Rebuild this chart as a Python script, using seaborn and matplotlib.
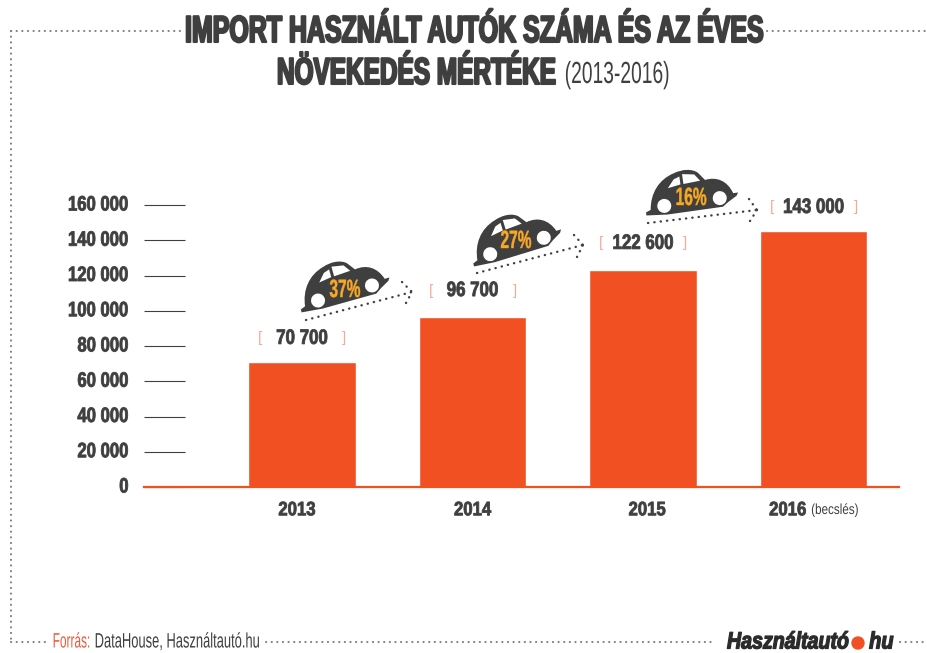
import matplotlib
matplotlib.use("Agg")
import matplotlib.pyplot as plt
import matplotlib.patheffects as pe
from matplotlib.path import Path
from matplotlib.patches import PathPatch, Circle, Polygon
from matplotlib.lines import Line2D
from matplotlib.transforms import Affine2D, ScaledTranslation
import pandas as pd
import seaborn as sns

# data
years = ["2013", "2014", "2015", "2016"]
bar_heights = [70700, 96700, 122900, 145000]
value_labels = ["70 700", "96 700", "122 600", "143 000"]
growth_labels = ["37%", "27%", "16%"]
y_ticks = [0, 20000, 40000, 60000, 80000, 100000, 120000, 140000, 160000]
y_tick_labels = ["0", "20 000", "40 000", "60 000", "80 000", "100 000", "120 000", "140 000", "160 000"]

W, H = 927, 653
DARK = "#3f3f3f"
ORANGE = "#f15122"
YELLOW = "#f9a825"
PINK = "#f8a896"
FRAME = "#808080"
LOGO = "#2b2b2b"

sns.set_theme(style="white")
plt.rcParams["font.family"] = ["Liberation Sans", "DejaVu Sans"]


# no condensed font is installed, so squeeze the glyphs sideways while drawing
class Squeeze(pe.AbstractPathEffect):
    def __init__(self, sx, pivot="center", stroke=0):
        super().__init__()
        self.sx = sx
        self.pivot = pivot
        self.stroke = stroke

    def draw_path(self, renderer, gc, tpath, affine, rgbFace=None):
        box = tpath.get_extents()
        px = {"left": box.x0, "right": box.x1, "center": (box.x0 + box.x1) / 2}[self.pivot]
        squeeze = Affine2D().translate(-px, 0).scale(self.sx, 1).translate(px, 0)
        gc0 = renderer.new_gc()
        gc0.copy_properties(gc)
        if self.stroke and rgbFace is not None:
            gc0.set_foreground(rgbFace)
            gc0.set_linewidth(self.stroke)
        renderer.draw_path(gc0, tpath, squeeze + affine, rgbFace)
        gc0.restore()


df = pd.DataFrame({"year": years, "imports": bar_heights})

fig = plt.figure(figsize=(W / 100, H / 100), dpi=100, facecolor="white")
ax = fig.add_axes([144 / W, 1 - 487 / H, (899 - 144) / W, (487 - 205) / H])

sns.barplot(data=df, x="year", y="imports", color=ORANGE, saturation=1, width=0.63, ax=ax)

ax.set_xlim(-0.926, 3.5)
ax.set_ylim(0, 160000)
ax.set_xlabel("")
ax.set_ylabel("")
sns.despine(ax=ax, left=True, top=True, right=True)
ax.spines["bottom"].set_color(ORANGE)
ax.spines["bottom"].set_linewidth(1.6)

# long ticks that run into the plot
ax.set_yticks(y_ticks)
ax.set_yticklabels(y_tick_labels, fontsize=15, fontweight="bold", color=DARK)
ax.tick_params(axis="y", direction="in", length=29.5, width=0.8, color=DARK, left=True, pad=11)
ax.tick_params(axis="x", length=0, pad=11)
for lab in ax.get_yticklabels():
    lab.set_transform(lab.get_transform() + ScaledTranslation(0, 2 / 100, fig.dpi_scale_trans))
    lab.set_path_effects([Squeeze(0.8, "right", 0.6)])

x_shift = [-5, 0, 4, -26]
ax.set_xticks(range(len(years)))
ax.set_xticklabels(years, fontsize=14, fontweight="bold", color=DARK)
for lab, dx in zip(ax.get_xticklabels(), x_shift):
    lab.set_transform(lab.get_transform() + ScaledTranslation(dx / 100, 0, fig.dpi_scale_trans))
    lab.set_path_effects([Squeeze(0.86, "center", 0.6)])


def px_text(x, y, s, sx=1.0, stroke=0, **kw):
    kw.setdefault("va", "center")
    kw.setdefault("color", DARK)
    pivot = kw.get("ha", "left")
    return fig.text(x / W, 1 - y / H, s, path_effects=[Squeeze(sx, pivot, stroke)], **kw)


px_text(811, 510, "(becslés)", sx=0.8, fontsize=10.5, ha="left")

# value labels with pale brackets
label_offset = [24, 26, 27, 24]
for i, v in enumerate(bar_heights):
    off = label_offset[i] * 0.72
    ax.annotate(value_labels[i], (i, v), xytext=(0, off), textcoords="offset points",
                ha="center", va="center", fontsize=15, fontweight="bold", color=DARK,
                path_effects=[Squeeze(0.81, "center", 0.6)])
    ax.annotate("[", (i, v), xytext=(-30.2, off), textcoords="offset points",
                ha="center", va="center", fontsize=11, color=PINK)
    ax.annotate("]", (i, v), xytext=(30.2, off), textcoords="offset points",
                ha="center", va="center", fontsize=11, color=PINK)

# titles
px_text(474, 32, "IMPORT HASZNÁLT AUTÓK SZÁMA ÉS AZ ÉVES", sx=0.665, stroke=1.5, fontsize=27,
        fontweight="bold", ha="center")
px_text(556, 74, "NÖVEKEDÉS MÉRTÉKE", sx=0.65, stroke=1.5, fontsize=27, fontweight="bold", ha="right")
px_text(564, 75, "(2013-2016)", sx=0.63, fontsize=22, ha="left")

# footer
px_text(91, 642, "Forrás:", sx=0.57, fontsize=15, color="#f0593e", ha="right")
px_text(94, 642, "DataHouse, Használtautó.hu", sx=0.62, fontsize=15, ha="left")
px_text(849, 642, "Használtautó", sx=0.83, stroke=0.9, fontsize=17, fontweight="bold", style="italic",
        ha="right", color=LOGO)
px_text(869, 642, "hu", sx=0.85, stroke=0.9, fontsize=17, fontweight="bold", style="italic",
        ha="left", color=LOGO)

# everything decorative below is placed in image pixels
pix = Affine2D().scale(1, -1).translate(0, H) + Affine2D().scale(1 / W, 1 / H) + fig.transFigure


def dotted(x0, y0, x1, y1, color=FRAME, lw=1.5):
    fig.add_artist(Line2D([x0, x1], [y0, y1], transform=pix, color=color, lw=lw,
                          linestyle=(0, (0.1, 2.6)), dash_capstyle="round", zorder=1))


# frame
dotted(11, 31, 180, 31)
dotted(767, 31, 927, 31)
dotted(11, 31, 11, 642)
dotted(11, 642, 45, 642)
dotted(266, 642, 716, 642)
dotted(900, 642, 927, 642)

fig.add_artist(Circle((858, 643), 6, transform=pix, color=ORANGE))

# the little beetle, drawn around the wheel midpoint, y pointing up
car_verts = [
    (-47, -4), (-42, -2),
    (-40, 14), (-30, 27), (-14, 31),
    (-5, 34), (5, 33), (10, 28),
    (16, 20),
    (28, 22), (38, 16), (42, 3),
    (47, 3), (45, 0), (36, -5), (30, -9), (-26, -9), (-47, -7), (-47, -4),
]
car_codes = [Path.MOVETO, Path.LINETO,
             Path.CURVE4, Path.CURVE4, Path.CURVE4,
             Path.CURVE4, Path.CURVE4, Path.CURVE4,
             Path.LINETO,
             Path.CURVE4, Path.CURVE4, Path.CURVE4,
             Path.LINETO, Path.LINETO, Path.LINETO, Path.LINETO, Path.LINETO, Path.LINETO, Path.CLOSEPOLY]
rear_window = [(-22, 17), (-9, 19), (-9, 27), (-15, 25)]
front_window = [(-6, 19), (11, 20), (6, 27), (-6, 29)]


def draw_car(cx, cy, angle):
    tr = Affine2D().rotate_deg(angle).translate(cx, H - cy).scale(1 / W, 1 / H) + fig.transFigure
    fig.add_artist(PathPatch(Path(car_verts, car_codes), transform=tr, fc=DARK, ec="none", zorder=3))
    for pts in (rear_window, front_window):
        fig.add_artist(Polygon(pts, closed=True, transform=tr, fc="white", ec="none", zorder=4))
    for wx in (-28, 28):
        fig.add_artist(Circle((wx, 0), 7, transform=tr, fc="white", ec="none", zorder=4))


cars = [(345, 293, 15.6), (517, 246, 17), (692, 202, 8)]
pct_pos = [(345, 290), (516, 241), (691, 198)]
arrows = [((306, 320), (412, 292), (402, 282), (406, 303)),
          ((477, 273), (583, 245), (574, 235), (577, 257)),
          ((648, 223), (757, 210), (749, 199), (750, 221))]

for c, p, a, s in zip(cars, pct_pos, arrows, growth_labels):
    draw_car(*c)
    (x0, y0), (x1, y1), up, down = a
    dotted(x0, y0, x1, y1, color=DARK, lw=1.7)
    dotted(up[0], up[1], x1, y1, color=DARK, lw=1.7)
    dotted(down[0], down[1], x1, y1, color=DARK, lw=1.7)
    t = px_text(p[0], p[1], s, sx=0.62, stroke=0.3, fontsize=18, fontweight="bold", color=YELLOW, ha="center")
    t.set_zorder(6)

fig.savefig("out.png", dpi=100)
